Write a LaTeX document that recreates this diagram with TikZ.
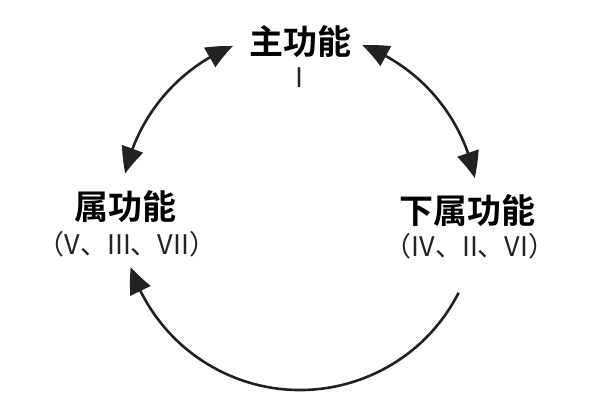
\documentclass[tikz,border=0pt]{standalone}
\usepackage{fontspec}
\newfontfamily\cjkb{Noto Sans CJK SC Bold}
\newfontfamily\cjk{Noto Sans CJK SC}
\usetikzlibrary{arrows.meta,bending,calc}
\definecolor{ink}{HTML}{222222}
\tikzset{
  title/.style={font=\cjkb\fontsize{34}{36}\selectfont, text=black, inner sep=0pt},
  sub/.style={font=\cjk\fontsize{27}{29}\selectfont, text=ink, inner sep=0pt},
  link/.style={draw=ink, line width=2.6pt},
  tip/.style={-{Triangle[length=26pt,width=22pt,bend]}},
  tips/.style={{Triangle[length=26pt,width=22pt,bend]}-{Triangle[length=26pt,width=22pt,bend]}}
}
\begin{document}
\begin{tikzpicture}[x=1pt,y=1pt]
\useasboundingbox (0,0) rectangle (600,412);
\fill[white] (0,0) rectangle (600,412);
\node[title] (main) at (300,370) {主功能};
\node[sub] (mainr) at (299,334) {I};
\node[title] (sd) at (125,205) {属功能};
\node[sub] (sdr) at (127,168) {（V、III、VII）};
\node[title] (dom) at (467,201) {下属功能};
\node[sub] (domr) at (470,166) {（IV、II、VI）};
\coordinate (c) at (300,200);
\coordinate (a1) at ($(c)+(167.6:179)$);
\coordinate (a2) at ($(c)+(69.5:178)$);
\coordinate (a3) at ($(c)+(-27:178)$);
\draw[link,tips] (a1) arc[start angle=167.6, end angle=112, radius=179];
\draw[link,tips] (a2) arc[start angle=69.5, end angle=11, radius=178];
\draw[link,tip] (a3) arc[start angle=-27, end angle=-162, radius=178];
\end{tikzpicture}
\end{document}
